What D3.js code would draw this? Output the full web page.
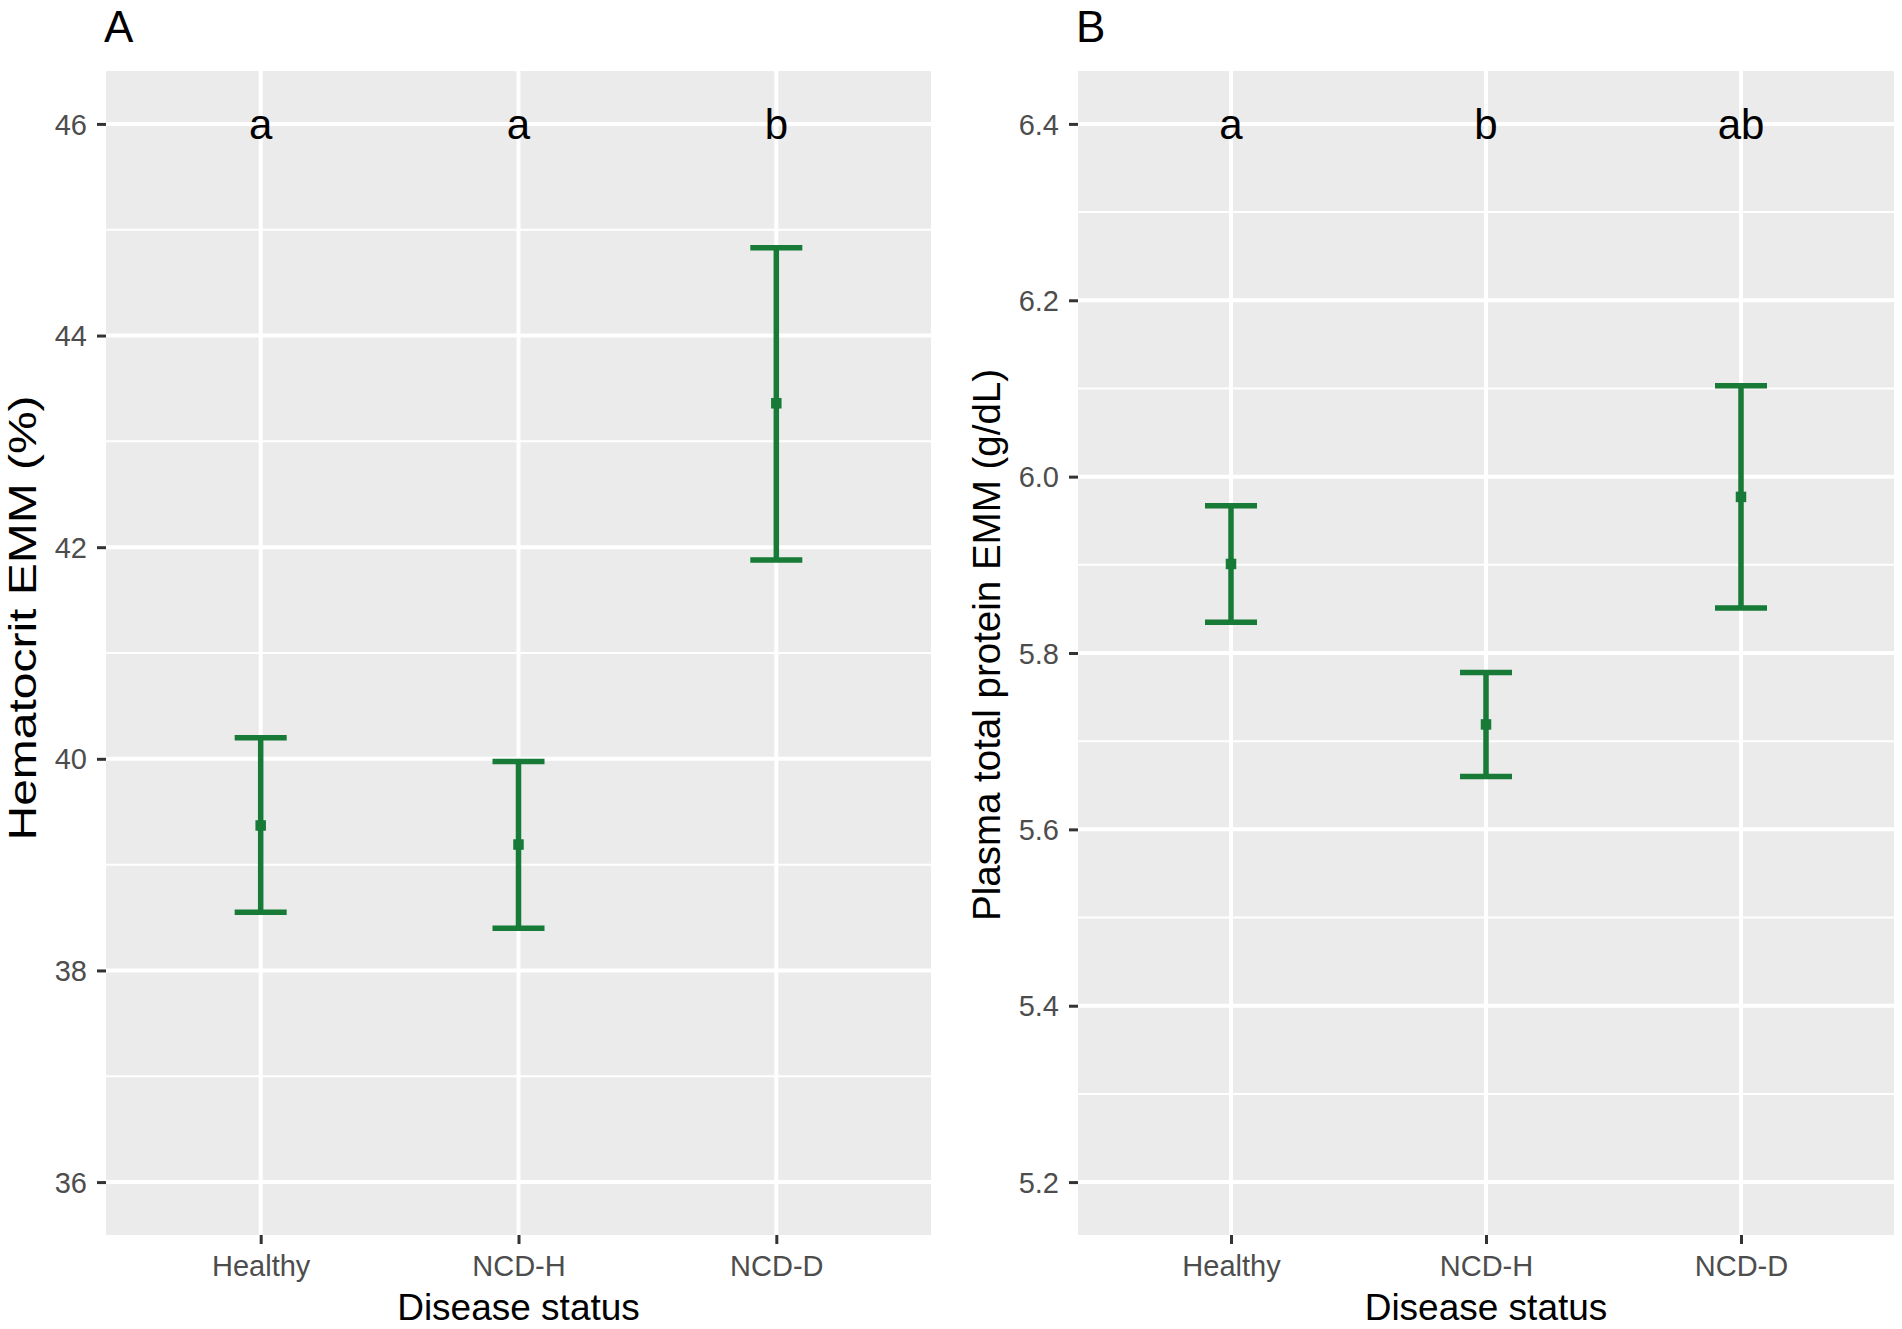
<!DOCTYPE html>
<html>
<head>
<meta charset="utf-8">
<script src="https://cdn.jsdelivr.net/npm/d3@7"></script>
<style>
  body { margin: 0; background: #fff; }
  text { font-family: "Liberation Sans", Arial, Helvetica, sans-serif; }
</style>
</head>
<body>
<div id="canvas"></div>
<script>
// categories and values
var categories = ["Healthy", "NCD-H", "NCD-D"];

var hctMean  = [39.37, 39.19, 43.36];
var hctLower = [38.55, 38.40, 41.88];
var hctUpper = [40.20, 39.975, 44.83];
var hctLetters = ["a", "a", "b"];
var hctTicks = [36, 38, 40, 42, 44, 46];
var hctDomain = [36, 46];

var tpMean  = [5.901, 5.719, 5.977];
var tpLower = [5.835, 5.660, 5.851];
var tpUpper = [5.967, 5.778, 6.103];
var tpLetters = ["a", "b", "ab"];
var tpTicks = [5.2, 5.4, 5.6, 5.8, 6.0, 6.2, 6.4];
var tpDomain = [5.2, 6.4];

Panel.BG_COLOR = "#EBEBEB";
Panel.GRID_COLOR = "#FFFFFF";
Panel.BAR_COLOR = "#177A37";
Panel.TICK_COLOR = "#333333";
Panel.TICK_TEXT_COLOR = "#4D4D4D";

function Panel(svg, opts){
    this.svg = svg;
    this.o = opts;

    // ggplot style 5% expansion on the continuous axis
    var pad = (opts.domain[1] - opts.domain[0]) * 0.05;
    this.y = d3.scaleLinear()
        .domain([opts.domain[0] - pad, opts.domain[1] + pad])
        .range([opts.bottom, opts.top]);
    this.x = d3.scalePoint()
        .domain(categories)
        .range([opts.left, opts.right])
        .padding(0.6);

    this.data = categories.map(function(c, i){
        return {cat: c, mean: opts.mean[i], lo: opts.lower[i], hi: opts.upper[i], letter: opts.letters[i]};
    });

    this._drawBackground();
    this._drawAxes();
    this._drawBars();
    this._drawLabels();
}

Panel.prototype._drawBackground = function(){
    var o = this.o, x = this.x, y = this.y;
    var g = this.svg.append("g");

    g.append("rect")
        .attr("x", o.left).attr("y", o.top)
        .attr("width", o.right - o.left).attr("height", o.bottom - o.top)
        .attr("fill", Panel.BG_COLOR);

    var minor = [];
    for(var i = 0; i < o.ticks.length - 1; i++){
        minor.push((o.ticks[i] + o.ticks[i+1]) / 2);
    }

    g.selectAll(".minor").data(minor).enter().append("line")
        .attr("x1", o.left).attr("x2", o.right)
        .attr("y1", function(d){ return y(d); })
        .attr("y2", function(d){ return y(d); })
        .attr("stroke", Panel.GRID_COLOR).attr("stroke-width", 2);

    g.selectAll(".major").data(o.ticks).enter().append("line")
        .attr("x1", o.left).attr("x2", o.right)
        .attr("y1", function(d){ return y(d); })
        .attr("y2", function(d){ return y(d); })
        .attr("stroke", Panel.GRID_COLOR).attr("stroke-width", 4);

    g.selectAll(".vmajor").data(categories).enter().append("line")
        .attr("x1", function(d){ return x(d); })
        .attr("x2", function(d){ return x(d); })
        .attr("y1", o.top).attr("y2", o.bottom)
        .attr("stroke", Panel.GRID_COLOR).attr("stroke-width", 4);
}

Panel.prototype._drawAxes = function(){
    var o = this.o;

    var yAxis = d3.axisLeft(this.y)
        .tickValues(o.ticks)
        .tickFormat(o.format)
        .tickSize(9)
        .tickPadding(10);
    var gy = this.svg.append("g")
        .attr("transform", "translate(" + o.left + ",0)")
        .call(yAxis);

    var xAxis = d3.axisBottom(this.x)
        .tickSize(9)
        .tickPadding(11);
    var gx = this.svg.append("g")
        .attr("transform", "translate(0," + o.bottom + ")")
        .call(xAxis);

    [gx, gy].forEach(function(g){
        g.select(".domain").remove();
        g.selectAll(".tick line").attr("stroke", Panel.TICK_COLOR).attr("stroke-width", 3);
        g.selectAll(".tick text")
            .attr("fill", Panel.TICK_TEXT_COLOR)
            .style("font-size", "29px")
            .style("font-family", "'Liberation Sans', Arial, sans-serif");
    });
    gy.selectAll(".tick text").attr("dy", "0.35em");
    gx.selectAll(".tick text").attr("dy", "0.71em");
}

Panel.prototype._drawBars = function(){
    var x = this.x, y = this.y;
    var capHalf = 26;
    var g = this.svg.append("g");

    g.selectAll(".stem").data(this.data).enter().append("line")
        .attr("x1", function(d){ return x(d.cat); })
        .attr("x2", function(d){ return x(d.cat); })
        .attr("y1", function(d){ return y(d.lo); })
        .attr("y2", function(d){ return y(d.hi); })
        .attr("stroke", Panel.BAR_COLOR).attr("stroke-width", 5.5);

    ["lo", "hi"].forEach(function(k){
        g.selectAll(".cap-" + k).data(this.data).enter().append("line")
            .attr("x1", function(d){ return x(d.cat) - capHalf; })
            .attr("x2", function(d){ return x(d.cat) + capHalf; })
            .attr("y1", function(d){ return y(d[k]); })
            .attr("y2", function(d){ return y(d[k]); })
            .attr("stroke", Panel.BAR_COLOR).attr("stroke-width", 5.5);
    }, this);

    g.selectAll(".pt").data(this.data).enter().append("rect")
        .attr("x", function(d){ return x(d.cat) - 5.25; })
        .attr("y", function(d){ return y(d.mean) - 5.25; })
        .attr("width", 10.5).attr("height", 10.5)
        .attr("fill", Panel.BAR_COLOR);
}

Panel.prototype._drawLabels = function(){
    var o = this.o, x = this.x, y = this.y;

    this.svg.selectAll(null).data(this.data).enter().append("text")
        .attr("x", function(d){ return x(d.cat); })
        .attr("y", y(o.ticks[o.ticks.length - 1]))
        .attr("dy", "0.36em")
        .attr("text-anchor", "middle")
        .style("font-size", "42px")
        .attr("fill", "#000")
        .text(function(d){ return d.letter; });

    // panel tag
    this.svg.append("text")
        .attr("x", o.left - 2).attr("y", 42)
        .style("font-size", "44px")
        .attr("fill", "#000")
        .text(o.tag);

    // x title
    this.svg.append("text")
        .attr("x", (o.left + o.right) / 2).attr("y", 1320)
        .attr("text-anchor", "middle")
        .style("font-size", "37px")
        .attr("fill", "#000")
        .text("Disease status");

    // y title
    var yt = this.svg.append("text")
        .attr("transform", "translate(" + o.titleX + "," + o.titleY + ") rotate(-90)")
        .attr("text-anchor", "middle")
        .style("font-size", o.titleSize + "px")
        .attr("fill", "#000")
        .text(o.title);
    if(o.titleLength){
        yt.attr("textLength", o.titleLength).attr("lengthAdjust", "spacingAndGlyphs");
    }
}

var svg = d3.select("#canvas").append("svg")
    .attr("width", 1902).attr("height", 1329);

new Panel(svg, {
    tag: "A", title: "Hematocrit EMM (%)",
    titleX: 36, titleY: 618, titleSize: 39, titleLength: 445,
    left: 106, right: 931, top: 71, bottom: 1235,
    mean: hctMean, lower: hctLower, upper: hctUpper, letters: hctLetters,
    ticks: hctTicks, domain: hctDomain, format: d3.format("d")
});

new Panel(svg, {
    tag: "B", title: "Plasma total protein EMM (g/dL)",
    titleX: 1000, titleY: 645, titleSize: 38.5,
    left: 1078, right: 1894, top: 71, bottom: 1235,
    mean: tpMean, lower: tpLower, upper: tpUpper, letters: tpLetters,
    ticks: tpTicks, domain: tpDomain, format: d3.format(".1f")
});
</script>
</body>
</html>
